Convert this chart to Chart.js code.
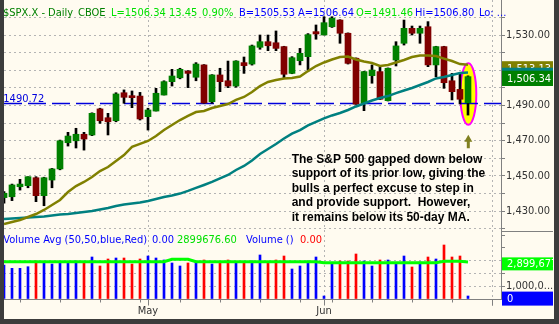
<!DOCTYPE html>
<html>
<head>
<meta charset="utf-8">
<script src="https://cdn.jsdelivr.net/npm/chart.js@4.4.1/dist/chart.umd.min.js"></script>
<style>
  html, body { margin: 0; padding: 0; background: #3c3c3c; }
  #wrap { position: absolute; left: 4px; top: 0; width: 550px; height: 319px; }
</style>
</head>
<body>
<div id="wrap"><canvas id="spx" width="550" height="319"></canvas></div>
<script>
// trading days shown on the chart
const days = [
  '2007-04-04','2007-04-05','2007-04-09','2007-04-10','2007-04-11','2007-04-12','2007-04-13',
  '2007-04-16','2007-04-17','2007-04-18','2007-04-19','2007-04-20','2007-04-23','2007-04-24',
  '2007-04-25','2007-04-26','2007-04-27','2007-04-30',
  '2007-05-01','2007-05-02','2007-05-03','2007-05-04','2007-05-07','2007-05-08','2007-05-09',
  '2007-05-10','2007-05-11','2007-05-14','2007-05-15','2007-05-16','2007-05-17','2007-05-18',
  '2007-05-21','2007-05-22','2007-05-23','2007-05-24','2007-05-25','2007-05-29','2007-05-30',
  '2007-05-31',
  '2007-06-01','2007-06-04','2007-06-05','2007-06-06','2007-06-07','2007-06-08','2007-06-11',
  '2007-06-12','2007-06-13','2007-06-14','2007-06-15','2007-06-18','2007-06-19','2007-06-20',
  '2007-06-21','2007-06-22','2007-06-25','2007-06-26','2007-06-27'
];
// empty slots to the right of the last bar
const futureDays = ['2007-06-28', '2007-06-29', '2007-07-02'];

const opens = [
  1437.6, 1438.1, 1443.8, 1444.4, 1448.9, 1438.7, 1447.6, 1453.9, 1468.8, 1469.9,
  1473.6, 1473.2, 1488.0, 1483.0, 1481.3, 1497.2, 1495.3, 1495.3, 1483.6, 1486.8,
  1495.9, 1503.5, 1505.7, 1509.5, 1506.0, 1513.0, 1492.1, 1507.3, 1504.0, 1501.0,
  1514.3, 1513.5, 1523.0, 1526.2, 1525.6, 1523.4, 1508.2, 1515.4, 1517.7, 1531.9,
  1530.0, 1534.7, 1538.5, 1531.0, 1516.8, 1491.2, 1506.9, 1509.2, 1492.7, 1515.8,
  1525.3, 1533.8, 1531.0, 1534.7, 1513.0, 1523.4, 1504.0, 1499.1, 1491.46
];
const highs = [
  1441.0, 1445.3, 1448.0, 1449.5, 1449.5, 1449.2, 1454.2, 1470.3, 1474.7, 1477.0,
  1474.7, 1485.8, 1488.4, 1485.5, 1497.2, 1498.8, 1498.2, 1497.4, 1488.4, 1499.7,
  1504.0, 1510.5, 1511.1, 1509.8, 1514.3, 1513.2, 1507.5, 1511.1, 1515.2, 1515.4,
  1517.5, 1524.3, 1530.0, 1530.0, 1532.3, 1523.6, 1517.7, 1522.4, 1530.8, 1535.7,
  1540.4, 1540.4, 1538.7, 1531.2, 1517.0, 1509.4, 1513.0, 1512.0, 1511.3, 1526.2,
  1538.5, 1535.1, 1535.1, 1537.6, 1523.6, 1523.6, 1508.2, 1508.2, 1506.80
];
const lows = [
  1434.4, 1435.9, 1441.9, 1443.2, 1435.3, 1433.0, 1443.2, 1453.4, 1466.9, 1465.8,
  1464.6, 1472.8, 1479.8, 1473.2, 1480.7, 1491.2, 1488.7, 1481.7, 1476.0, 1486.8,
  1495.9, 1501.0, 1505.1, 1500.1, 1504.0, 1491.2, 1491.2, 1497.8, 1500.1, 1500.3,
  1508.2, 1512.9, 1521.9, 1521.1, 1521.1, 1505.7, 1508.0, 1513.0, 1510.1, 1527.6,
  1530.0, 1534.3, 1525.3, 1513.5, 1490.6, 1487.0, 1502.6, 1493.3, 1492.5, 1512.4,
  1524.3, 1530.0, 1525.3, 1512.0, 1506.3, 1499.7, 1493.1, 1490.8, 1484.5
];
const closes = [
  1440.1, 1444.8, 1445.3, 1449.5, 1438.7, 1448.9, 1453.9, 1469.9, 1472.6, 1473.6,
  1470.9, 1485.5, 1481.3, 1480.7, 1496.5, 1494.6, 1494.4, 1482.3, 1487.4, 1496.9,
  1503.5, 1506.7, 1510.5, 1508.2, 1513.5, 1491.4, 1507.3, 1503.5, 1501.0, 1515.2,
  1512.6, 1523.8, 1526.2, 1523.9, 1522.4, 1507.7, 1517.1, 1519.6, 1530.2, 1530.6,
  1537.0, 1539.5, 1531.0, 1513.9, 1490.72, 1509.2, 1510.1, 1493.5, 1511.1, 1523.8,
  1533.8, 1531.0, 1533.8, 1513.0, 1523.4, 1502.9, 1497.8, 1493.5, 1506.34
];

// 20-day and 50-day moving averages
const ma20 = [
  1422.6, 1423.75, 1424.9, 1426.6, 1428.3, 1430.6, 1433.4, 1436.25, 1440.8, 1444.2,
  1446.5, 1449.3, 1452.7, 1455.0, 1458.4, 1461.8, 1466.4, 1468.1, 1469.8, 1472.6,
  1476.0, 1478.9, 1481.7, 1484.0, 1486.25, 1486.8, 1488.5, 1489.7, 1490.8, 1493.1,
  1494.8, 1497.6, 1501.0, 1503.3, 1504.4, 1505.3, 1505.6, 1506.4, 1509.5, 1512.4,
  1514.4, 1516.1, 1517.5, 1517.8, 1516.1, 1514.9, 1514.1, 1512.4, 1512.95, 1514.4,
  1515.8, 1517.5, 1518.35, 1518.35, 1518.1, 1516.6, 1515.2, 1513.5, 1513.13
];
const ma50 = [
  1425.45, 1425.7, 1426.0, 1426.3, 1426.6, 1426.9, 1427.4, 1428.0, 1428.3, 1428.9,
  1429.4, 1430.0, 1430.85, 1431.7, 1432.8, 1433.7, 1434.3, 1434.8, 1435.7, 1436.8,
  1438.0, 1438.8, 1439.9, 1441.4, 1443.1, 1444.8, 1446.5, 1448.5, 1450.45, 1453.3,
  1455.6, 1458.7, 1462.4, 1465.2, 1468.1, 1471.2, 1474.0, 1476.0, 1478.6, 1480.6,
  1482.6, 1484.3, 1485.7, 1487.4, 1489.4, 1491.1, 1492.8, 1494.2, 1495.3, 1497.0,
  1498.5, 1499.9, 1501.6, 1503.3, 1505.3, 1506.1, 1507.3, 1508.4, 1508.7
];

const volumes = [
  2656000, 2398000, 2398000, 2523000, 2969000, 2867000, 2734000, 2891000, 2891000, 2969000,
  2891000, 3281000, 2578000, 3125000, 3203000, 3203000, 2734000, 3125000, 3359000, 3203000,
  3047000, 2813000, 2578000, 2813000, 2969000, 3047000, 2734000, 2813000, 3047000, 2891000,
  2891000, 2969000, 3438000, 2891000, 3047000, 3359000, 2344000, 2578000, 2969000, 3281000,
  234000, 2734000, 2969000, 2969000, 3516000, 2969000, 2578000, 3047000, 3047000, 2813000,
  3359000, 2500000, 2891000, 3281000, 3125000, 4219000, 3281000, 3359000, 234000
];
const volAvg = [
  2910000, 2910000, 2910000, 2910000, 2910000, 2910000, 2910000, 2910000, 2910000, 2910000,
  2910000, 2910000, 2910000, 2910000, 2910000, 2910000, 2910000, 2910000, 2910000, 2910000,
  2910000, 3100000, 3100000, 3100000, 2910000, 2910000, 2910000, 2910000, 2910000, 2910000,
  2910000, 2910000, 2910000, 2910000, 2910000, 2910000, 2910000, 2910000, 2910000, 2910000,
  2840000, 2840000, 2840000, 2840000, 2840000, 2840000, 2840000, 2840000, 2840000, 2840000,
  2840000, 2840000, 2840000, 2840000, 2840000, 2950000, 2950000, 2950000, 2899676.6
];

const priceTicks = [1420, 1430, 1440, 1450, 1460, 1470, 1480, 1490, 1500, 1510, 1520, 1530, 1540];
const priceLabels = [1430, 1450, 1470, 1490, 1510, 1530];
const volumeTicks = [0, 1000000, 2000000, 3000000, 4000000, 5000000];
const supportLevel = 1490.72;

const note = [
  'The S&P 500 gapped down below',
  'support of its prior low, giving the',
  'bulls a perfect excuse to step in',
  'and provide support.  However,',
  'it remains below its 50-day MA.'
];

const last = days.length - 1;
const FONT = '"DejaVu Sans Condensed", "Liberation Sans", sans-serif';
const LIME = '#00e000', BLUE = '#0000ff', GRID = '#b4b4b4', AXIS = '#808080';

// week starts and month starts as bar indexes
const allDays = days.concat(futureDays);
const dayNum = s => Date.UTC(+s.slice(0, 4), +s.slice(5, 7) - 1, +s.slice(8, 10)) / 864e5;
const weekStarts = [], monthStarts = [];
allDays.forEach((d, i) => {
  if (i === 0) return;
  const prev = allDays[i - 1];
  if (Math.floor((dayNum(d) + 3) / 7) !== Math.floor((dayNum(prev) + 3) / 7)) weekStarts.push(i);
  if (d.slice(5, 7) !== prev.slice(5, 7)) monthStarts.push(i);
});
const monthNames = ['Jan','Feb','Mar','Apr','May','Jun','Jul','Aug','Sep','Oct','Nov','Dec'];

const fmt2 = v => v.toLocaleString('en-US', { minimumFractionDigits: 2, maximumFractionDigits: 2 });
const fmt0 = v => Math.round(v).toLocaleString('en-US');

const bodyColors = days.map((d, i) => closes[i] >= opens[i] ? '#008000' : '#800000');
const volColors = days.map((d, i) => i === 0 || closes[i] > closes[i - 1] ? BLUE : '#ff0000');

function put(ctx, str, x, y, color, font) {
  ctx.fillStyle = color;
  ctx.font = font || ('11px ' + FONT);
  ctx.fillText(str, x, y);
}

function badge(chart, center, h, fill, label) {
  const { ctx, chartArea, width } = chart;
  const x0 = chartArea.right + 1;
  ctx.fillStyle = fill;
  ctx.fillRect(x0, center - h / 2, width - 1 - x0, h);
  if (label) {
    ctx.textBaseline = 'middle';
    put(ctx, label, x0 + 5, center + 0.5, '#ffffff');
    ctx.textBaseline = 'alphabetic';
  }
}

const decorations = {
  id: 'decorations',
  beforeDraw(chart) {
    const { ctx, width, height } = chart;
    ctx.save();
    ctx.fillStyle = '#fffbf0';
    ctx.fillRect(0, 0, width, height);
    ctx.restore();
  },
  beforeDatasetsDraw(chart) {
    const { ctx, chartArea, scales: { x, y } } = chart;
    ctx.save();
    // highlight around the gap-down bar
    const cx = x.getPixelForValue(last) + 0.3;
    const top = y.getPixelForValue(1514), bottom = y.getPixelForValue(1479);
    ctx.beginPath();
    ctx.ellipse(cx, (top + bottom) / 2, 8, (bottom - top) / 2, 0, 0, Math.PI * 2);
    ctx.fillStyle = '#ffff00';
    ctx.fill();
    ctx.lineWidth = 2;
    ctx.strokeStyle = '#ff00ff';
    ctx.stroke();
    // prior low
    const sy = Math.round(y.getPixelForValue(supportLevel)) - 0.5;
    ctx.setLineDash([18, 6]);
    ctx.lineWidth = 1.6;
    ctx.strokeStyle = '#0000dd';
    ctx.beginPath();
    ctx.moveTo(chartArea.left, sy);
    ctx.lineTo(chartArea.right, sy);
    ctx.stroke();
    ctx.restore();
  },
  afterDraw(chart) {
    const { ctx, chartArea, width, scales: { x, y, v } } = chart;
    ctx.save();

    // divider between the price and volume axes
    ctx.strokeStyle = AXIS;
    ctx.lineWidth = 1;
    ctx.beginPath();
    ctx.moveTo(chartArea.right, Math.round(y.bottom) + 0.5);
    ctx.lineTo(width - 1, Math.round(y.bottom) + 0.5);
    ctx.stroke();

    // x tick marks
    const axisY = Math.round(x.top) + 0.5;
    weekStarts.forEach(i => {
      const px = Math.round(x.getPixelForValue(i)) + 0.5;
      const len = monthStarts.includes(i) ? 6 : 3;
      ctx.beginPath();
      ctx.moveTo(px, axisY);
      ctx.lineTo(px, axisY + len);
      ctx.stroke();
    });
    monthStarts.forEach(i => {
      const px = Math.round(x.getPixelForValue(i)) + 0.5;
      ctx.beginPath();
      ctx.moveTo(px, axisY);
      ctx.lineTo(px, axisY + 6);
      ctx.stroke();
    });

    // last-value markers on the right axes
    badge(chart, y.getPixelForValue(ma20[last]) + 4, 15, '#808000', fmt2(ma20[last]));
    badge(chart, y.getPixelForValue(ma50[last]) + 2.7, 15, '#008080');
    badge(chart, y.getPixelForValue(closes[last]) + 1.7, 15.3, '#008000', fmt2(closes[last]));
    badge(chart, v.getPixelForValue(volAvg[last]) + 2, 13, '#00ff00', fmt0(volAvg[last]));
    badge(chart, v.getPixelForValue(0) - 0.4, 14, '#0000ff', '0');

    // quote line
    ctx.textBaseline = 'alphabetic';
    const hy = 15.5;
    put(ctx, '$SPX.X - Daily', -1, hy, '#008000');
    put(ctx, 'CBOE', 74, hy, '#008000');
    put(ctx, 'L=' + closes[last].toFixed(2), 107, hy, LIME);
    put(ctx, '13.45', 165, hy, LIME);
    put(ctx, '0.90%', 198, hy, LIME);
    put(ctx, 'B=1505.53', 235, hy, BLUE);
    put(ctx, 'A=1506.64', 294, hy, BLUE);
    put(ctx, 'O=' + opens[last].toFixed(2), 352, hy, LIME);
    put(ctx, 'Hi=' + highs[last].toFixed(2), 411, hy, BLUE);
    put(ctx, 'Lo: ...', 475, hy, BLUE);

    // volume pane title
    const vy = Math.round(y.bottom) + 12;
    put(ctx, 'Volume Avg (50,50,blue,Red)', -0.7, vy, BLUE);
    put(ctx, '0.00', 148, vy, BLUE);
    put(ctx, volAvg[last].toFixed(2), 173, vy, LIME);
    put(ctx, 'Volume ()', 242, vy, BLUE);
    put(ctx, '0.00', 296, vy, '#ff0000');

    // support label
    put(ctx, supportLevel.toFixed(2), -0.7, y.getPixelForValue(supportLevel) - 2.5, '#0000dd');

    // comment block
    note.forEach((line, i) => {
      put(ctx, line, 287.7, 163 + i * 14.4, '#000000', 'bold 12px "Liberation Sans", Arial, sans-serif');
    });

    // arrow under the highlighted bar
    const ax = x.getPixelForValue(last) + 0.3;
    const tip = y.getPixelForValue(1479) + 10;
    ctx.fillStyle = '#808020';
    ctx.beginPath();
    ctx.moveTo(ax, tip);
    ctx.lineTo(ax + 4, tip + 7);
    ctx.lineTo(ax + 1.5, tip + 7);
    ctx.lineTo(ax + 1.5, tip + 13.5);
    ctx.lineTo(ax - 1.5, tip + 13.5);
    ctx.lineTo(ax - 1.5, tip + 7);
    ctx.lineTo(ax - 4, tip + 7);
    ctx.closePath();
    ctx.fill();

    ctx.restore();
  }
};

const tickFont = { family: FONT, size: 11 };

new Chart(document.getElementById('spx'), {
  type: 'bar',
  data: {
    datasets: [
      {
        type: 'line', label: 'MA 20', yAxisID: 'y', order: 1,
        data: days.map((d, i) => ({ x: i, y: ma20[i] })),
        borderColor: '#808000', borderWidth: 2.5, pointRadius: 0, tension: 0, fill: false
      },
      {
        type: 'line', label: 'MA 50', yAxisID: 'y', order: 2,
        data: days.map((d, i) => ({ x: i, y: ma50[i] })),
        borderColor: '#008080', borderWidth: 2.5, pointRadius: 0, tension: 0, fill: false
      },
      {
        label: 'Body', yAxisID: 'y', order: 3,
        data: days.map((d, i) => ({ x: i, y: [opens[i], closes[i]] })),
        backgroundColor: bodyColors, barThickness: 6, minBarLength: 2, grouped: false, borderWidth: 0
      },
      {
        label: 'Wick', yAxisID: 'y', order: 4,
        data: days.map((d, i) => ({ x: i, y: [lows[i], highs[i]] })),
        backgroundColor: '#000000', barThickness: 2, grouped: false, borderWidth: 0
      },
      {
        type: 'line', label: 'Volume Avg', yAxisID: 'v', order: 5,
        data: days.map((d, i) => ({ x: i, y: volAvg[i] })),
        borderColor: '#00ff00', borderWidth: 3, pointRadius: 0, tension: 0, fill: false
      },
      {
        label: 'Volume', yAxisID: 'v', order: 6,
        data: days.map((d, i) => ({ x: i, y: volumes[i] })),
        backgroundColor: volColors, barThickness: 2, grouped: false, borderWidth: 0
      }
    ]
  },
  options: {
    responsive: false,
    devicePixelRatio: 1,
    animation: false,
    events: [],
    layout: { padding: 0 },
    plugins: { legend: { display: false }, tooltip: { enabled: false } },
    scales: {
      x: {
        type: 'linear', min: 0, max: 62.125, offset: false,
        grid: { offset: false, drawTicks: false, color: GRID, lineWidth: 1 },
        border: { color: AXIS, dash: [2, 3] },
        ticks: {
          autoSkip: false, maxRotation: 0, padding: 6, font: tickFont, color: '#333333',
          callback: val => val <= last ? monthNames[+allDays[val].slice(5, 7) - 1] : ''
        },
        afterBuildTicks: s => { s.ticks = monthStarts.map(i => ({ value: i })); },
        afterFit: s => { s.height = 20; s.paddingLeft = 0; s.paddingRight = 0; }
      },
      y: {
        type: 'linear', position: 'right', stack: 'panes', stackWeight: 231,
        min: 1418.64, max: 1549.89,
        grid: { color: GRID, tickColor: AXIS, tickLength: 4, tickBorderDash: [] },
        border: { color: AXIS, dash: [2, 3] },
        ticks: {
          padding: 1, font: tickFont, color: '#333333', autoSkip: false,
          callback: val => priceLabels.includes(val) ? fmt2(val) : ''
        },
        afterBuildTicks: s => { s.ticks = priceTicks.map(p => ({ value: p })); },
        afterFit: s => { s.width = 53; s.paddingTop = 0; s.paddingBottom = 0; }
      },
      v: {
        type: 'linear', position: 'right', stack: 'panes', stackWeight: 68,
        min: 0, max: 5312500,
        grid: {
          color: c => (c.tick && c.tick.value > 0 && c.tick.value < 4000000) ? GRID : 'rgba(0,0,0,0)',
          tickColor: AXIS, tickLength: 4, tickBorderDash: []
        },
        border: { color: AXIS, dash: [2, 3] },
        ticks: {
          padding: 1, font: tickFont, color: '#333333', autoSkip: false,
          callback: val => val === 1000000 ? '1,000,0...' : ''
        },
        afterBuildTicks: s => { s.ticks = volumeTicks.map(p => ({ value: p })); },
        afterFit: s => { s.width = 53; s.paddingTop = 0; s.paddingBottom = 0; }
      }
    }
  },
  plugins: [decorations]
});
</script>
</body>
</html>
